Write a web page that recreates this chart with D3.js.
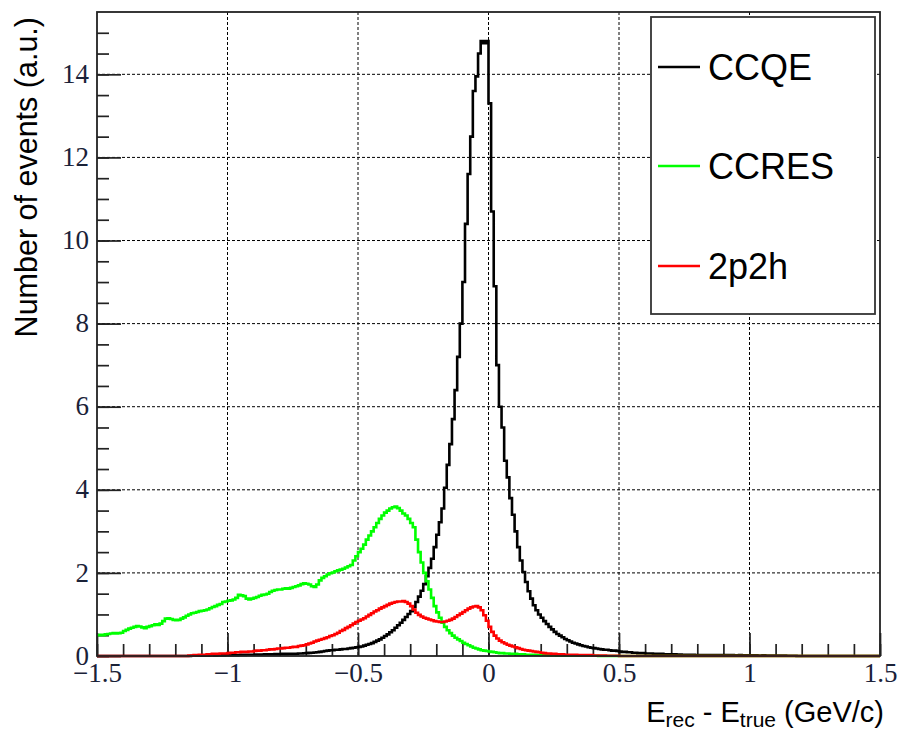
<!DOCTYPE html>
<html>
<head>
<meta charset="utf-8">
<script src="https://cdn.jsdelivr.net/npm/d3@7"></script>
<style>
html,body{margin:0;padding:0;background:#fff;}
svg{display:block;}
</style>
</head>
<body>
<svg id="chart" width="899" height="733"></svg>
<script>
// ---- data (bin width 0.01 from -1.5 to 1.5, 300 bins) ----
const binStart = -1.5;
const binWidth = 0.01;

const ccqe = [
0,0,0,0,0,0,0,0,0,0,
0,0,0,0,0,0,0,0,0,0,
0,0,0,0,0,0,0,0,0,0,
0,0,0,0,0,0,0.005,0.005,0.01,0.01,
0.01,0.01,0.01,0.015,0.015,0.01,0.015,0.02,0.015,0.02,
0.02,0.02,0.025,0.02,0.025,0.03,0.025,0.03,0.03,0.03,
0.03,0.035,0.03,0.035,0.04,0.035,0.04,0.04,0.045,0.04,
0.045,0.05,0.045,0.05,0.055,0.05,0.055,0.06,0.06,0.065,
0.07,0.075,0.08,0.085,0.09,0.1,0.11,0.12,0.13,0.14,
0.14,0.15,0.15,0.16,0.17,0.17,0.18,0.19,0.2,0.21,
0.22,0.23,0.25,0.27,0.29,0.31,0.34,0.37,0.40,0.44,
0.48,0.52,0.57,0.62,0.68,0.74,0.80,0.87,0.94,1.01,
1.08,1.18,1.30,1.43,1.57,1.73,1.92,2.12,2.34,2.62,
2.92,3.22,3.55,4.05,4.6,5.1,5.7,6.4,7.2,8.0,
9.0,10.4,11.6,12.5,13.6,13.95,14.5,14.8,14.75,14.8,
13.3,10.7,8.9,7.0,6.0,5.5,4.7,4.3,3.8,3.4,
3.0,2.62,2.3,2.02,1.78,1.56,1.38,1.22,1.1,1.0,
0.92,0.84,0.77,0.7,0.64,0.58,0.53,0.49,0.45,0.41,
0.38,0.35,0.32,0.3,0.28,0.26,0.24,0.23,0.21,0.2,
0.19,0.18,0.17,0.16,0.15,0.15,0.14,0.13,0.13,0.12,
0.11,0.1,0.1,0.09,0.09,0.08,0.08,0.07,0.07,0.07,
0.06,0.06,0.06,0.05,0.05,0.05,0.05,0.04,0.04,0.04,
0.04,0.04,0.035,0.035,0.03,0.03,0.03,0.03,0.03,0.025,
0.025,0.025,0.02,0.025,0.02,0.02,0.025,0.02,0.02,0.02,
0.02,0.02,0.015,0.02,0.015,0.015,0.02,0.015,0.015,0.015,
0.015,0.01,0.015,0.01,0.01,0.015,0.01,0.01,0.01,0.01,
0.01,0.01,0.005,0.01,0.005,0.005,0.005,0.005,0,0,
0,0,0,0,0,0,0,0,0,0,
0,0,0,0,0,0,0,0,0,0,
0,0,0,0,0,0,0,0,0,0
];

const ccres = [
0.5,0.51,0.5,0.52,0.53,0.54,0.55,0.54,0.55,0.56,
0.6,0.63,0.66,0.68,0.7,0.72,0.71,0.69,0.67,0.7,
0.72,0.74,0.76,0.75,0.78,0.84,0.9,0.91,0.89,0.87,
0.86,0.87,0.9,0.93,0.97,1.0,1.03,1.04,1.06,1.08,
1.09,1.1,1.12,1.15,1.18,1.2,1.23,1.25,1.3,1.31,
1.33,1.34,1.36,1.4,1.47,1.46,1.44,1.38,1.36,1.38,
1.4,1.42,1.45,1.47,1.48,1.5,1.54,1.57,1.59,1.6,
1.6,1.62,1.63,1.62,1.64,1.66,1.68,1.7,1.73,1.75,
1.74,1.72,1.68,1.66,1.72,1.82,1.88,1.92,1.96,1.99,
2.01,2.04,2.06,2.08,2.1,2.13,2.16,2.19,2.3,2.4,
2.5,2.58,2.68,2.8,2.9,3.0,3.1,3.2,3.3,3.38,
3.45,3.5,3.55,3.58,3.6,3.56,3.5,3.43,3.38,3.3,
3.2,3.1,2.8,2.5,2.25,2.0,1.8,1.6,1.4,1.2,
1.05,0.92,0.8,0.7,0.62,0.55,0.49,0.44,0.4,0.36,
0.32,0.29,0.26,0.23,0.2,0.18,0.16,0.14,0.13,0.12,
0.11,0.1,0.09,0.08,0.07,0.07,0.06,0.06,0.05,0.05,
0.05,0.04,0.04,0.04,0.03,0.03,0.03,0.03,0.025,0.025,
0.02,0.02,0.02,0.015,0.015,0.015,0.01,0.01,0.01,0.01,
0.01,0.01,0.01,0.005,0.005,0.005,0.005,0.005,0.005,0.005,
0.005,0.005,0,0,0,0,0,0,0,0,
0,0,0,0,0,0,0,0,0,0,
0,0,0,0,0,0,0,0,0,0,
0,0,0,0,0,0,0,0,0,0,
0,0,0,0,0,0,0,0,0,0,
0,0,0,0,0,0,0,0,0,0,
0,0,0,0,0,0,0,0,0,0,
0,0,0,0,0,0,0,0,0,0,
0,0,0,0,0,0,0,0,0,0,
0,0,0,0,0,0,0,0,0,0,
0,0,0,0,0,0,0,0,0,0
];

const twoP2h = [
0,0,0,0,0,0,0,0,0,0,
0,0,0,0,0,0,0,0,0,0,
0,0,0,0,0,0,0,0,0,0,
0,0,0,0,0,0.01,0.01,0.02,0.02,0.03,
0.03,0.03,0.04,0.04,0.05,0.05,0.05,0.06,0.06,0.06,
0.07,0.08,0.08,0.09,0.09,0.1,0.1,0.1,0.11,0.11,
0.12,0.13,0.13,0.14,0.14,0.15,0.16,0.16,0.17,0.18,
0.18,0.19,0.2,0.2,0.21,0.22,0.22,0.24,0.25,0.26,
0.28,0.3,0.32,0.35,0.37,0.39,0.41,0.43,0.45,0.48,
0.5,0.53,0.56,0.6,0.63,0.67,0.7,0.74,0.78,0.82,
0.85,0.88,0.91,0.95,0.99,1.03,1.07,1.1,1.14,1.17,
1.2,1.23,1.26,1.28,1.3,1.31,1.31,1.32,1.3,1.26,
1.2,1.12,1.04,0.99,0.95,0.92,0.9,0.88,0.86,0.84,
0.83,0.82,0.82,0.83,0.85,0.87,0.9,0.94,0.98,1.02,
1.06,1.1,1.14,1.17,1.19,1.2,1.17,1.1,0.98,0.85,
0.7,0.58,0.49,0.42,0.37,0.33,0.3,0.27,0.25,0.23,
0.21,0.19,0.17,0.15,0.14,0.13,0.12,0.11,0.1,0.09,
0.08,0.07,0.06,0.06,0.05,0.05,0.04,0.04,0.04,0.03,
0.03,0.03,0.03,0.03,0.02,0.02,0.02,0.02,0.02,0.02,
0.01,0.01,0.01,0.01,0.01,0.005,0.005,0.005,0.005,0.005,
0,0,0,0,0,0,0,0,0,0,
0,0,0,0,0,0,0,0,0,0,
0,0,0,0,0,0,0,0,0,0,
0,0,0,0,0,0,0,0,0,0,
0,0,0,0,0,0,0,0,0,0,
0,0,0,0,0,0,0,0,0,0,
0,0,0,0,0,0,0,0,0,0,
0,0,0,0,0,0,0,0,0,0,
0,0,0,0,0,0,0,0,0,0,
0,0,0,0,0,0,0,0,0,0
];

const seriesNames = ["CCQE", "CCRES", "2p2h"];
const seriesColors = ["#000000", "#00ff00", "#ff0000"];
const xTickValues = [-1.5, -1, -0.5, 0, 0.5, 1, 1.5];
const xTickLabels = ["\u22121.5", "\u22121", "\u22120.5", "0", "0.5", "1", "1.5"];
const yTickValues = [0, 2, 4, 6, 8, 10, 12, 14];
const yTickLabels = ["0", "2", "4", "6", "8", "10", "12", "14"];

// ---- layout ----
const L = 97, R = 880, T = 12, B = 656;
const svg = d3.select("#chart");
const x = d3.scaleLinear().domain([-1.5, 1.5]).range([L, R]);
const y = d3.scaleLinear().domain([0, 15.5]).range([B, T]);

// grid
const grid = svg.append("g").attr("stroke", "#000").attr("stroke-width", 1).attr("stroke-dasharray", "3,2");
xTickValues.filter(v => v > -1.5 && v < 1.5).forEach(v => {
  grid.append("line").attr("x1", x(v)).attr("x2", x(v)).attr("y1", T).attr("y2", B);
});
yTickValues.filter(v => v > 0).forEach(v => {
  grid.append("line").attr("x1", L).attr("x2", R).attr("y1", y(v)).attr("y2", y(v));
});

// axes (ticks inside)
const minorX = d3.range(-15, 16).map(i => i / 10);
const minorY = d3.range(0, 31).map(i => i / 2);

const gxMinor = svg.append("g").attr("transform", `translate(0,${B})`)
  .call(d3.axisBottom(x).tickValues(minorX).tickSize(-12).tickFormat(""));
const gx = svg.append("g").attr("transform", `translate(0,${B})`)
  .call(d3.axisBottom(x).tickValues(xTickValues).tickSize(-23)
    .tickFormat((d, i) => xTickLabels[i]).tickPadding(7));
const gyMinor = svg.append("g").attr("transform", `translate(${L},0)`)
  .call(d3.axisLeft(y).tickValues(minorY).tickSize(-12).tickFormat(""));
const gy = svg.append("g").attr("transform", `translate(${L},0)`)
  .call(d3.axisLeft(y).tickValues(yTickValues).tickSize(-24)
    .tickFormat((d, i) => yTickLabels[i]).tickPadding(7));

[gxMinor, gx, gyMinor, gy].forEach(g => {
  g.select(".domain").remove();
  g.selectAll(".tick line").attr("stroke", "#222").attr("stroke-width", 1.7);
});
gx.selectAll(".tick text")
  .attr("font-family", "'Liberation Serif','Times New Roman',serif")
  .attr("font-size", 27).attr("fill", "#1a2238")
  .attr("dy", null).attr("y", 26);
gy.selectAll(".tick text")
  .attr("font-family", "'Liberation Serif','Times New Roman',serif")
  .attr("font-size", 27).attr("fill", "#1a2238")
  .attr("x", -8).attr("dy", "0.3em");

// histograms
function stepPoints(vals) {
  const pts = [];
  vals.forEach((v, i) => {
    const lo = binStart + i * binWidth, hi = lo + binWidth;
    pts.push([x(lo), y(v)], [x(hi), y(v)]);
  });
  return pts;
}
const line = d3.line();
[ccqe, ccres, twoP2h].forEach((vals, k) => {
  svg.append("path")
    .attr("d", line(stepPoints(vals)))
    .attr("fill", "none")
    .attr("stroke", seriesColors[k])
    .attr("stroke-width", 2.6)
    .attr("stroke-linejoin", "miter");
});

// frame
svg.append("rect").attr("x", L).attr("y", T).attr("width", R - L).attr("height", B - T)
  .attr("fill", "none").attr("stroke", "#222").attr("stroke-width", 1.8);

// legend
const lg = svg.append("g");
lg.append("rect").attr("x", 651).attr("y", 17).attr("width", 224).attr("height", 297)
  .attr("fill", "#fff").attr("stroke", "#333").attr("stroke-width", 1.8);
const legY = [67, 166, 266];
seriesNames.forEach((n, i) => {
  lg.append("line").attr("x1", 658).attr("x2", 700).attr("y1", legY[i]).attr("y2", legY[i])
    .attr("stroke", seriesColors[i]).attr("stroke-width", 2.6);
  lg.append("text").attr("x", 708).attr("y", legY[i] + 12.5)
    .attr("font-family", "'Liberation Sans',Arial,sans-serif").attr("font-size", 36)
    .attr("fill", "#000").text(n);
});

// axis titles
svg.append("text")
  .attr("transform", "translate(37,17) rotate(-90)")
  .attr("text-anchor", "end")
  .attr("font-family", "'Liberation Sans',Arial,sans-serif").attr("font-size", 30.5)
  .attr("fill", "#000").text("Number of events (a.u.)");

const xt = svg.append("text").attr("x", 884).attr("y", 722).attr("text-anchor", "end")
  .attr("font-family", "'Liberation Sans',Arial,sans-serif").attr("font-size", 29).attr("fill", "#000");
xt.append("tspan").text("E");
xt.append("tspan").attr("font-size", 21).attr("dy", 5).text("rec");
xt.append("tspan").attr("dy", -5).text(" - E");
xt.append("tspan").attr("font-size", 21).attr("dy", 5).text("true");
xt.append("tspan").attr("dy", -5).text(" (GeV/c)");
</script>
</body>
</html>
